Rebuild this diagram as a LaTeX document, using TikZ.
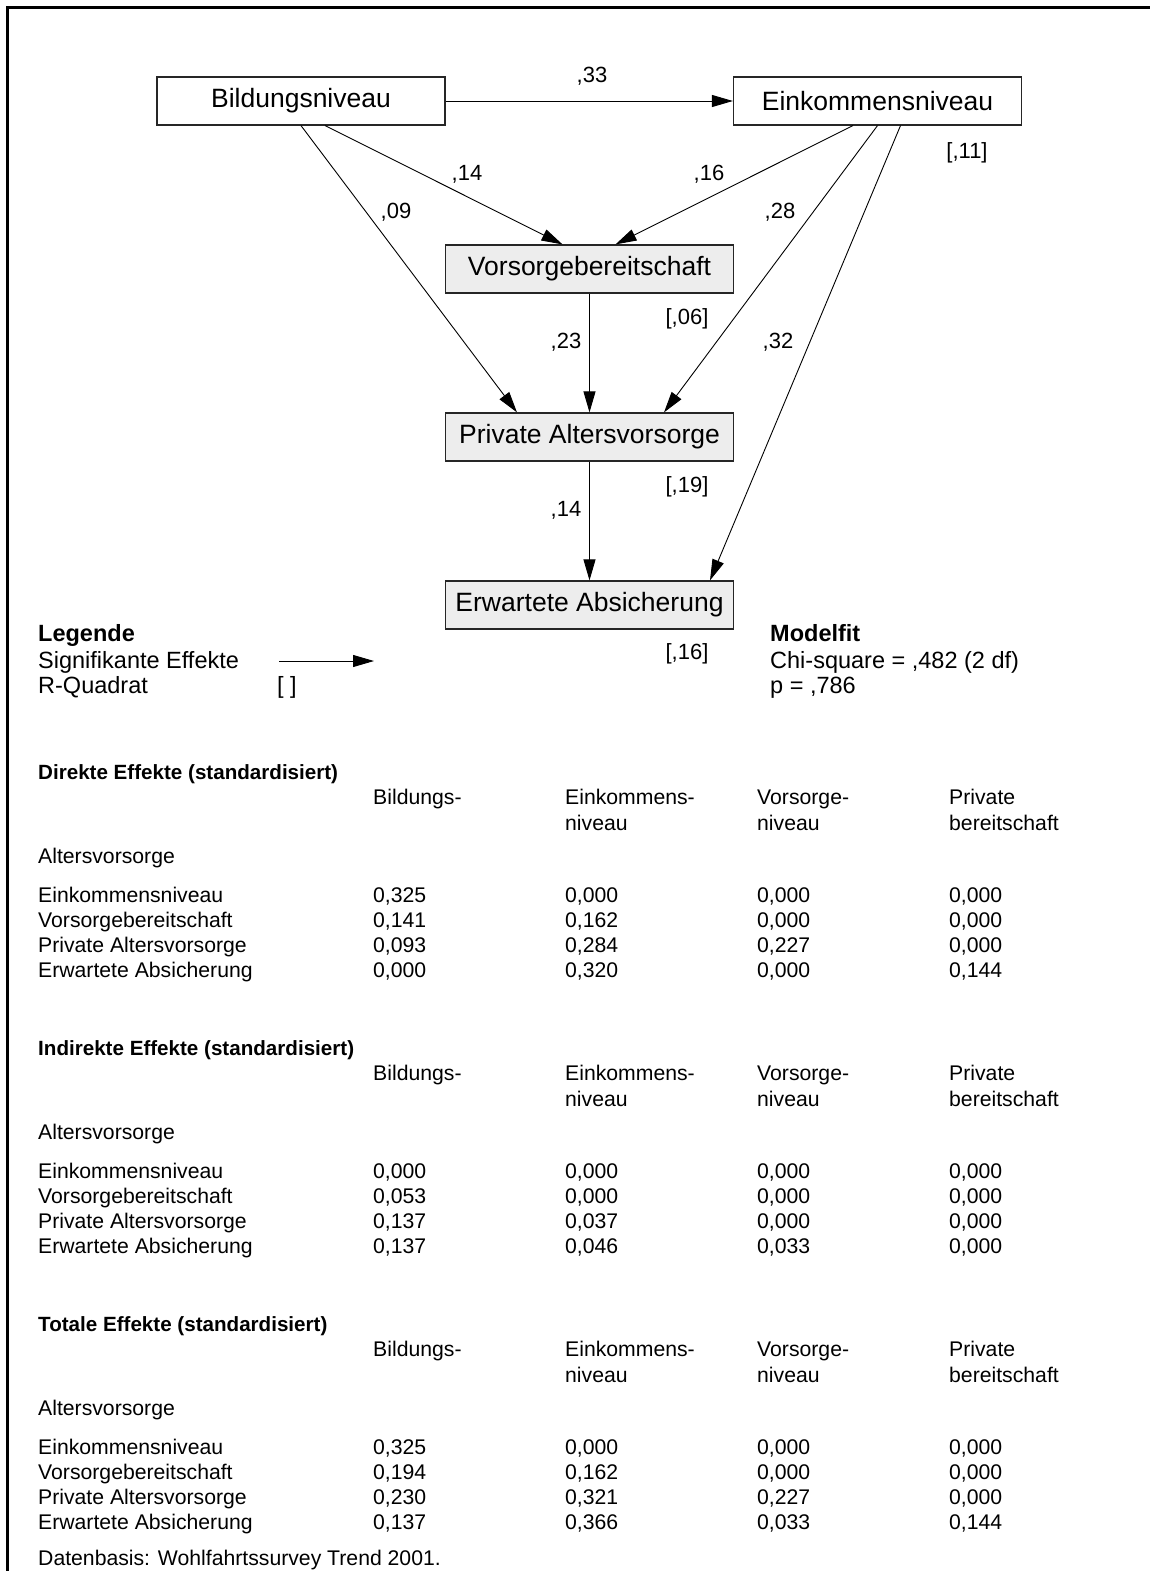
\documentclass[tikz,border=0pt]{standalone}
\usepackage{fontspec}
\setmainfont{Liberation Sans}
\usetikzlibrary{arrows.meta}
\newcommand{\effhead}[3]{%
  \node[btxt] (#1t) at (38,#2) {#3};
  \node[txt] (#1h1) at (373,#2+25) {Bildungs-};
  \node[txt] (#1h2) at (565,#2+25) {Einkommens-};
  \node[txt] (#1h3) at (757,#2+25) {Vorsorge-};
  \node[txt] (#1h4) at (949,#2+25) {Private};
  \node[txt] (#1h5) at (565,#2+51) {niveau};
  \node[txt] (#1h6) at (757,#2+51) {niveau};
  \node[txt] (#1h7) at (949,#2+51) {bereitschaft};
  \node[txt] (#1al) at (38,#2+84) {Altersvorsorge};}
\newcommand{\effrow}[7]{%
  \node[txt] (#1l) at (38,#2) {#3};
  \node[txt] (#1a) at (373,#2) {#4};
  \node[txt] (#1b) at (565,#2) {#5};
  \node[txt] (#1c) at (757,#2) {#6};
  \node[txt] (#1d) at (949,#2) {#7};}
\begin{document}
\begin{tikzpicture}[x=1pt,y=-1pt,
  box/.style={draw=black!85, line width=1.2pt, minimum width=288pt, minimum height=48pt, inner sep=0pt, font=\fontsize{26.5}{30}\selectfont},
  gbox/.style={box, fill=black!7},
  wbox/.style={box, fill=white},
  conn/.style={line width=0.9pt, -{Triangle[length=21pt,width=12pt]}},
  lbl/.style={anchor=base, inner sep=0pt, font=\fontsize{22}{26}\selectfont},
  ltxt/.style={anchor=base west, inner sep=0pt, font=\fontsize{23.5}{27}\selectfont},
  lbtxt/.style={anchor=base west, inner sep=0pt, font=\fontsize{23.5}{27}\selectfont\bfseries},
  txt/.style={anchor=base west, inner sep=0pt, font=\fontsize{21.2}{25}\selectfont},
  btxt/.style={anchor=base west, inner sep=0pt, font=\fontsize{20.6}{25}\selectfont\bfseries}
]
\useasboundingbox (0,0) rectangle (1150,1571);
\draw[line width=3pt] (7.5,1600) -- (7.5,7.5) -- (1180,7.5);

% boxes
\node[wbox] (B) at (301,101) {Bildungsniveau};
\node[wbox] (E) at (877.5,101) {Einkommensniveau};
\node[gbox] (V) at (589.5,269) {Vorsorgebereitschaft};
\node[gbox] (P) at (589.5,437) {Private Altersvorsorge};
\node[gbox] (A) at (589.5,605) {Erwartete Absicherung};

% connectors
\draw[conn] (B.east) -- (E.west);
\draw[conn] ([xshift=24pt]B.south) -- ([xshift=-27pt]V.north);
\draw[conn] ([xshift=-24.5pt]E.south) -- ([xshift=26pt]V.north);
\draw[conn] (B.south) -- ([xshift=-72.5pt]P.north);
\draw[conn] (E.south) -- ([xshift=74.5pt]P.north);
\draw[conn] ([xshift=23pt]E.south) -- ([xshift=120.5pt]A.north);
\draw[conn] (V.south) -- (P.north);
\draw[conn] (P.south) -- (A.north);

% coefficients
\node[lbl] (c33) at (592,82) {,33};
\node[lbl] (r11) at (967,158) {[,11]};
\node[lbl] (c14a) at (467,180) {,14};
\node[lbl] (c16) at (709,180) {,16};
\node[lbl] (c09) at (396,218) {,09};
\node[lbl] (c28) at (780,218) {,28};
\node[lbl] (r06) at (687,324) {[,06]};
\node[lbl] (c23) at (566,348) {,23};
\node[lbl] (c32) at (778,348) {,32};
\node[lbl] (r19) at (687,492) {[,19]};
\node[lbl] (c14b) at (566,516) {,14};
\node[lbl] (r16) at (687,659) {[,16]};

% legend
\node[lbtxt] (leg) at (38,641) {Legende};
\node[ltxt] (leg1) at (38,668) {Signifikante Effekte};
\node[ltxt] (leg2) at (38,693) {R-Quadrat};
\node[ltxt] (leg3) at (277,693) {[ ]};
\coordinate (la) at (279,661);
\coordinate (lb) at (374,661);
\draw[conn] (la) -- (lb);
\node[lbtxt] (mf) at (770,641) {Modelfit};
\node[ltxt] (mf1) at (770,668) {Chi-square = ,482 (2 df)};
\node[ltxt] (mf2) at (770,693) {p = ,786};

% tables
\effhead{d}{779}{Direkte Effekte (standardisiert)}
\effrow{d1}{902}{Einkommensniveau}{0,325}{0,000}{0,000}{0,000}
\effrow{d2}{927}{Vorsorgebereitschaft}{0,141}{0,162}{0,000}{0,000}
\effrow{d3}{952}{Private Altersvorsorge}{0,093}{0,284}{0,227}{0,000}
\effrow{d4}{977}{Erwartete Absicherung}{0,000}{0,320}{0,000}{0,144}

\effhead{i}{1055}{Indirekte Effekte (standardisiert)}
\effrow{i1}{1178}{Einkommensniveau}{0,000}{0,000}{0,000}{0,000}
\effrow{i2}{1203}{Vorsorgebereitschaft}{0,053}{0,000}{0,000}{0,000}
\effrow{i3}{1228}{Private Altersvorsorge}{0,137}{0,037}{0,000}{0,000}
\effrow{i4}{1253}{Erwartete Absicherung}{0,137}{0,046}{0,033}{0,000}

\effhead{t}{1331}{Totale Effekte (standardisiert)}
\effrow{t1}{1454}{Einkommensniveau}{0,325}{0,000}{0,000}{0,000}
\effrow{t2}{1479}{Vorsorgebereitschaft}{0,194}{0,162}{0,000}{0,000}
\effrow{t3}{1504}{Private Altersvorsorge}{0,230}{0,321}{0,227}{0,000}
\effrow{t4}{1529}{Erwartete Absicherung}{0,137}{0,366}{0,033}{0,144}

\node[txt] (src) at (38,1565) {Datenbasis: Wohlfahrtssurvey Trend 2001.};
\end{tikzpicture}
\end{document}
